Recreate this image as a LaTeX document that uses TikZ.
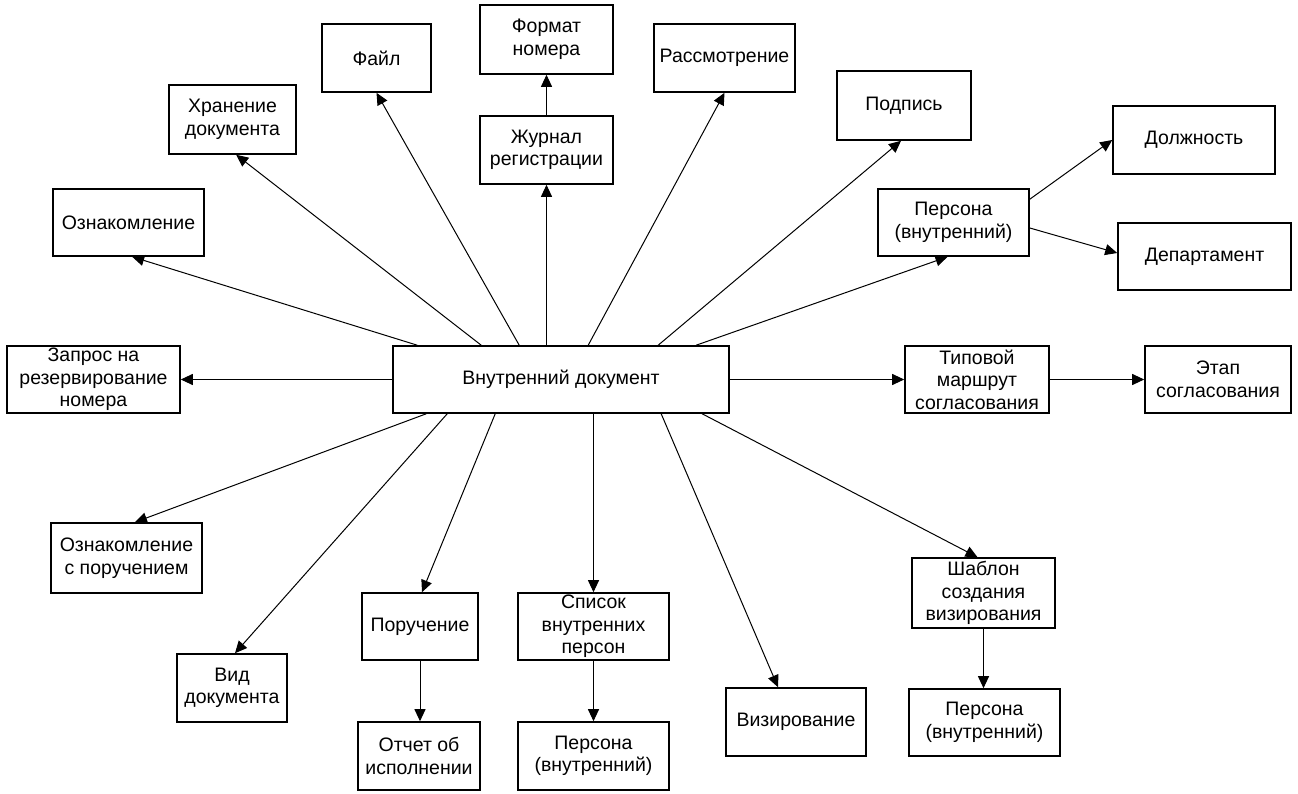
\documentclass[tikz,border=0pt]{standalone}
\usepackage{fontspec}
\setmainfont{Liberation Sans}
\usetikzlibrary{arrows.meta,calc}
\begin{document}
\begin{tikzpicture}[x=1pt,y=-1pt,
    box/.style={draw,line width=1.6pt,align=center,inner sep=0pt,
      font=\fontsize{19.5}{22.5}\selectfont},
    link/.style={line width=1pt,-{Triangle[length=12pt,width=11pt]}}]
    \useasboundingbox (0,0) rectangle (1298,794);
    \node[box,minimum width=336,minimum height=67] (doc) at (561,379.5) {Внутренний документ};
    \node[box,minimum width=173,minimum height=67] (zapros) at (93.5,379.5) {Запрос на\\резервирование\\номера};
    \node[box,minimum width=151,minimum height=67] (ozn) at (128.5,222.5) {Ознакомление};
    \node[box,minimum width=127,minimum height=69] (hran) at (232.5,119.5) {Хранение\\документа};
    \node[box,minimum width=109,minimum height=68] (fail) at (376.5,58) {Файл};
    \node[box,minimum width=133,minimum height=69] (format) at (546.5,39.5) {Формат\\номера};
    \node[box,minimum width=133,minimum height=68] (zhurnal) at (546.5,150) {Журнал\\регистрации};
    \node[box,minimum width=141,minimum height=68] (rassm) at (724.5,58) {Рассмотрение};
    \node[box,minimum width=134,minimum height=69] (podp) at (904,105.5) {Подпись};
    \node[box,minimum width=162,minimum height=68] (dolzh) at (1194,140) {Должность};
    \node[box,minimum width=151,minimum height=67] (persA) at (953.5,222.5) {Персона\\(внутренний)};
    \node[box,minimum width=173,minimum height=67] (dep) at (1204.5,256.5) {Департамент};
    \node[box,minimum width=144,minimum height=67] (tipmar) at (977,379.5) {Типовой\\маршрут\\согласования};
    \node[box,minimum width=146,minimum height=67] (etap) at (1218,379.5) {Этап\\согласования};
    \node[box,minimum width=151,minimum height=70] (oznpor) at (126.5,558) {Ознакомление\\с поручением};
    \node[box,minimum width=110,minimum height=68] (vid) at (232,688) {Вид\\документа};
    \node[box,minimum width=116,minimum height=67] (poruch) at (420,626.5) {Поручение};
    \node[box,minimum width=122,minimum height=68] (otchet) at (419,756) {Отчет об\\исполнении};
    \node[box,minimum width=151,minimum height=67] (spisok) at (593.5,626.5) {Список\\внутренних\\персон};
    \node[box,minimum width=151,minimum height=68] (persB) at (593.5,756) {Персона\\(внутренний)};
    \node[box,minimum width=140,minimum height=68] (viz) at (796,722) {Визирование};
    \node[box,minimum width=143,minimum height=70] (shabl) at (983.5,593) {Шаблон\\создания\\визирования};
    \node[box,minimum width=151,minimum height=67] (persC) at (984.5,722.5) {Персона\\(внутренний)};
    % left and right
    \draw[link] (doc.west) -- (zapros.east);
    \draw[link] (doc.east) -- (tipmar.west);
    \draw[link] (tipmar.east) -- (etap.west);
    % upwards
    \draw[link] ($(doc.north west)+(25,0)$) -- ($(ozn.south west)+(80,0)$);
    \draw[link] ($(doc.north west)+(89,0)$) -- ($(hran.south west)+(68,0)$);
    \draw[link] ($(doc.north west)+(127,0)$) -- (fail.south);
    \draw[link] (zhurnal.south |- doc.north) -- (zhurnal.south);
    \draw[link] (zhurnal.north) -- (format.south);
    \draw[link] ($(doc.north west)+(196,0)$) -- (rassm.south);
    \draw[link] ($(doc.north west)+(266,0)$) -- ($(podp.south)+(-3,0)$);
    \draw[link] ($(doc.north west)+(304,0)$) -- ($(persA.south)+(-6,0)$);
    \draw[link] ($(persA.north east)+(0,11)$) -- (dolzh.west);
    \draw[link] ($(persA.east)+(0,5.5)$) -- ($(dep.west)+(0,-3.5)$);
    % downwards
    \draw[link] ($(doc.south west)+(34,0)$) -- ($(oznpor.north)+(8.5,0)$);
    \draw[link] ($(doc.south west)+(55,0)$) -- ($(vid.north)+(3,0)$);
    \draw[link] ($(doc.south west)+(103,0)$) -- ($(poruch.north)+(2,0)$);
    \draw[link] (spisok.north |- doc.south) -- (spisok.north);
    \draw[link] ($(doc.south west)+(269,0)$) -- ($(viz.north)+(-18,0)$);
    \draw[link] ($(doc.south west)+(310,0)$) -- ($(shabl.north)+(-6,0)$);
    \draw[link] (poruch.south) -- (poruch.south |- otchet.north);
    \draw[link] (spisok.south) -- (persB.north);
    \draw[link] (shabl.south) -- (shabl.south |- persC.north);
  \end{tikzpicture}
\end{document}
